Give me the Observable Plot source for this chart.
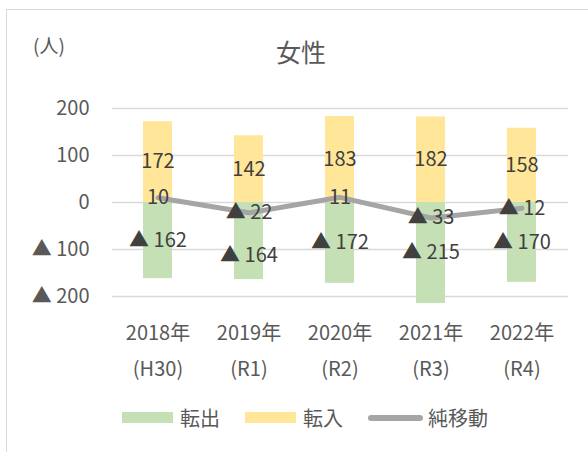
<!DOCTYPE html>
<html><head><meta charset="utf-8">
<script src="https://cdn.jsdelivr.net/npm/d3@7"></script>
<script src="https://cdn.jsdelivr.net/npm/@observablehq/plot@0.6"></script>
<style>
body{margin:0;background:#fff;font-family:"Noto Sans CJK JP",sans-serif;}
#c{position:relative;width:588px;height:452px;overflow:hidden;background:#fff;}
#frame{position:absolute;left:6px;top:9px;width:600px;height:460px;border-left:1.5px solid #d9d9d9;border-top:1.5px solid #d9d9d9;}
#unit{position:absolute;left:33px;top:31px;font-size:19px;color:#595959;}
#title{position:absolute;left:0;width:602px;top:33px;text-align:center;font-size:25px;color:#595959;}
#chart{position:absolute;left:0;top:0;}
#legend{position:absolute;left:122px;top:403px;display:flex;align-items:center;font-size:20px;color:#595959;}
.sw{display:inline-block;width:51px;height:11px;margin-right:7px;}
.ln{display:inline-block;width:55px;height:6px;border-radius:3px;background:#A5A5A5;margin-right:5px;}
.it{display:flex;align-items:center;margin-right:25px;}
</style></head>
<body>
<div id="c">
  <div id="frame"></div>
  <div id="chart"></div>
  <div id="unit">(人)</div>
  <div id="title">女性</div>
  <div id="legend"></div>
</div>
<script>
const years = ["2018年","2019年","2020年","2021年","2022年"];
const eras = ["(H30)","(R1)","(R2)","(R3)","(R4)"];
const inflow = [172,142,183,182,158];     // 転入
const outflow = [-162,-164,-172,-215,-170]; // 転出
const net = [10,-22,11,-33,-12];           // 純移動
const yTicks = [-200,-100,0,100,200];
const seriesNames = ["転出","転入","純移動"];
const seriesColors = ["#C5E0B4","#FFE699","#A5A5A5"];

const rows = years.map((y,i)=>({year:y, era:eras[i], inflow:inflow[i], outflow:outflow[i], net:net[i]}));
const fmt = v => v < 0 ? "▲ " + Math.abs(v) : String(v);
const eraOf = Object.fromEntries(years.map((y,i)=>[y, eras[i]]));
const font = '"Noto Sans CJK JP", sans-serif';
// nudge an outflow label down when it would crowd the net-migration label (as the spreadsheet did)
const outLabelY = d => {
  const mid = d.outflow / 2;
  return (d.net - mid) < 62 ? mid - 32 : mid;
};

const chart = Plot.plot({
  width: 588, height: 386,
  marginTop: 108, marginBottom: 90, marginLeft: 112, marginRight: 20,
  style: {fontFamily: font, fontSize: "20px", color: "#595959", background: "transparent", overflow: "visible"},
  x: {domain: years, paddingInner: 0.68, paddingOuter: 0.34, axis: null},
  y: {domain: [-200, 200], axis: null},
  marks: [
    Plot.gridY(yTicks, {stroke: "#d9d9d9", strokeOpacity: 1, strokeWidth: 1.4}),
    Plot.barY(rows, {x: "year", y: "inflow", fill: seriesColors[1]}),
    Plot.barY(rows, {x: "year", y: "outflow", fill: seriesColors[0]}),
    Plot.line(rows, {x: "year", y: "net", stroke: seriesColors[2], strokeWidth: 5, strokeLinejoin: "round", strokeLinecap: "round"}),
    Plot.text(rows, {x: "year", y: d => d.inflow / 2, text: d => fmt(d.inflow), fill: "#404040", fontSize: 20}),
    Plot.text(rows, {x: "year", y: outLabelY, text: d => fmt(d.outflow), fill: "#404040", fontSize: 20}),
    Plot.text(rows, {x: "year", y: "net", text: d => fmt(d.net), fill: "#404040", fontSize: 20}),
    Plot.axisY(yTicks, {tickSize: 0, tickPadding: 23, tickFormat: fmt, fontSize: 20, fill: "#595959", label: null}),
    Plot.axisX({tickSize: 0, tickPadding: 29, fontSize: 20, fill: "#595959", label: null}),
    Plot.axisX({tickSize: 0, tickPadding: 65, tickFormat: d => eraOf[d], fontSize: 20, fill: "#595959", label: null})
  ]
});
document.getElementById("chart").appendChild(chart);

const lg = document.getElementById("legend");
seriesNames.forEach((n,i)=>{
  const it = document.createElement("div"); it.className = "it";
  const s = document.createElement("span");
  if (i === 2) { s.className = "ln"; } else { s.className = "sw"; s.style.background = seriesColors[i]; }
  it.appendChild(s);
  const t = document.createElement("span"); t.textContent = n; it.appendChild(t);
  lg.appendChild(it);
});
</script>
</body></html>
